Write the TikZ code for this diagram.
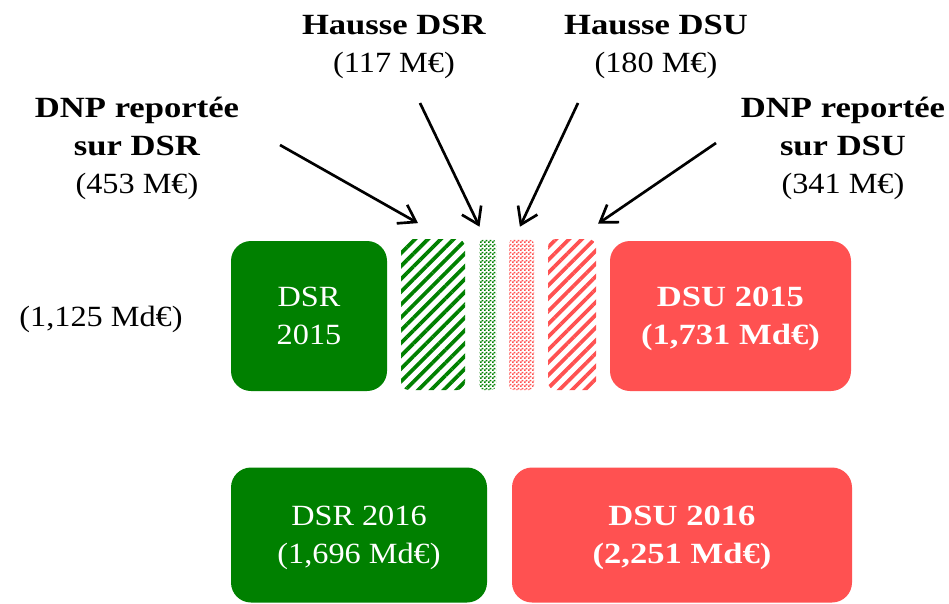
\documentclass[tikz,border=0pt]{standalone}
\usepackage{fontspec}
\setmainfont{Liberation Serif}[FakeStretch=1.1, BoldFeatures={FakeStretch=1.18}]
\usepackage{tikz}
\usetikzlibrary{arrows.meta,patterns,patterns.meta}

\definecolor{dsrgreen}{RGB}{0,128,0}
\definecolor{dsured}{RGB}{255,81,81}

\newcommand{\diagfont}{\fontsize{22pt}{28.5pt}\selectfont}

% fine checker board for the thin bars
\pgfdeclarepatternformonly{finechecks}{\pgfqpoint{0pt}{0pt}}{\pgfqpoint{3pt}{3pt}}{\pgfqpoint{3pt}{3pt}}{%
  \pgfpathrectangle{\pgfqpoint{0pt}{0pt}}{\pgfqpoint{1.5pt}{1.5pt}}%
  \pgfpathrectangle{\pgfqpoint{1.5pt}{1.5pt}}{\pgfqpoint{1.5pt}{1.5pt}}%
  \pgfusepath{fill}}

\tikzset{
  bloc/.style={rounded corners=15pt, text=white, align=center, inner sep=0pt, text depth=0pt, font=\diagfont},
  stripes/.style={rounded corners=6pt, inner sep=0pt, minimum height=113.25pt,
    pattern={Lines[angle=45,distance=6.8pt,line width=2.8pt]}},
  checks/.style={rounded corners=3.5pt, inner sep=0pt, minimum height=113.25pt, pattern=finechecks},
  lbl/.style={align=center, inner sep=0pt, font=\diagfont},
  pointer/.style={line width=2pt, -{Straight Barb[length=12pt,width=16pt]}}
}

\begin{document}
\begin{tikzpicture}[x=0.75pt,y=0.75pt,yscale=-1,xscale=1]
\useasboundingbox (0,0) rectangle (949,603);

%Blocks 2015
\node (dsr15) at (309,316) [bloc, fill=dsrgreen, minimum width=117pt, minimum height=112.5pt] {DSR\\2015};
\node (dsu15) at (730.5,316) [bloc, fill=dsured, minimum width=180.75pt, minimum height=112.5pt, font=\diagfont\bfseries] {DSU 2015\\(1,731 Md€)};

%Transfers
\node (dnpdsr) at (433,314.5) [stripes, pattern color=dsrgreen, minimum width=48pt] {};
\node (hdsr) at (487.5,314.5) [checks, pattern color=dsrgreen, minimum width=12.75pt] {};
\node (hdsu) at (521.5,314.5) [checks, pattern color=dsured, minimum width=18.75pt] {};
\node (dnpdsu) at (572,314.5) [stripes, pattern color=dsured, minimum width=36pt] {};

%Blocks 2016
\node (dsr16) at (359,535) [bloc, fill=dsrgreen, minimum width=192pt, minimum height=101.25pt] {DSR 2016\\(1,696 Md€)};
\node (dsu16) at (682,535) [bloc, fill=dsured, minimum width=255pt, minimum height=101.25pt, font=\diagfont\bfseries] {DSU 2016\\(2,251 Md€)};

% Text Node
\node (dsrtotal) at (101,319) [lbl] {(1,125 Md€)};
% Text Node
\node (lbldnpdsr) at (137,148) [lbl] {\textbf{DNP reportée}\\\textbf{sur DSR}\\(453 M€)};
% Text Node
\node (lblhdsr) at (394,47) [lbl] {\textbf{Hausse DSR}\\(117 M€)};
% Text Node
\node (lblhdsu) at (656,47) [lbl] {\textbf{Hausse DSU}\\(180 M€)};
% Text Node
\node (lbldnpdsu) at (843,148) [lbl] {\textbf{DNP reportée}\\\textbf{sur DSU}\\(341 M€)};

%Arrows
\coordinate (p1) at (280,145);
\coordinate (p2) at (420,103);
\coordinate (p3) at (578,103);
\coordinate (p4) at (716,143);
\draw [pointer] (p1) -- ([xshift=-11.25pt,yshift=-10.5pt]dnpdsr.north);
\draw [pointer] (p2) -- ([xshift=-6pt,yshift=-9pt]hdsr.north);
\draw [pointer] (p3) -- ([xshift=-1.2pt,yshift=-9pt]hdsu.north);
\draw [pointer] (p4) -- ([xshift=19.5pt,yshift=-11.25pt]dnpdsu.north);

\end{tikzpicture}
\end{document}
